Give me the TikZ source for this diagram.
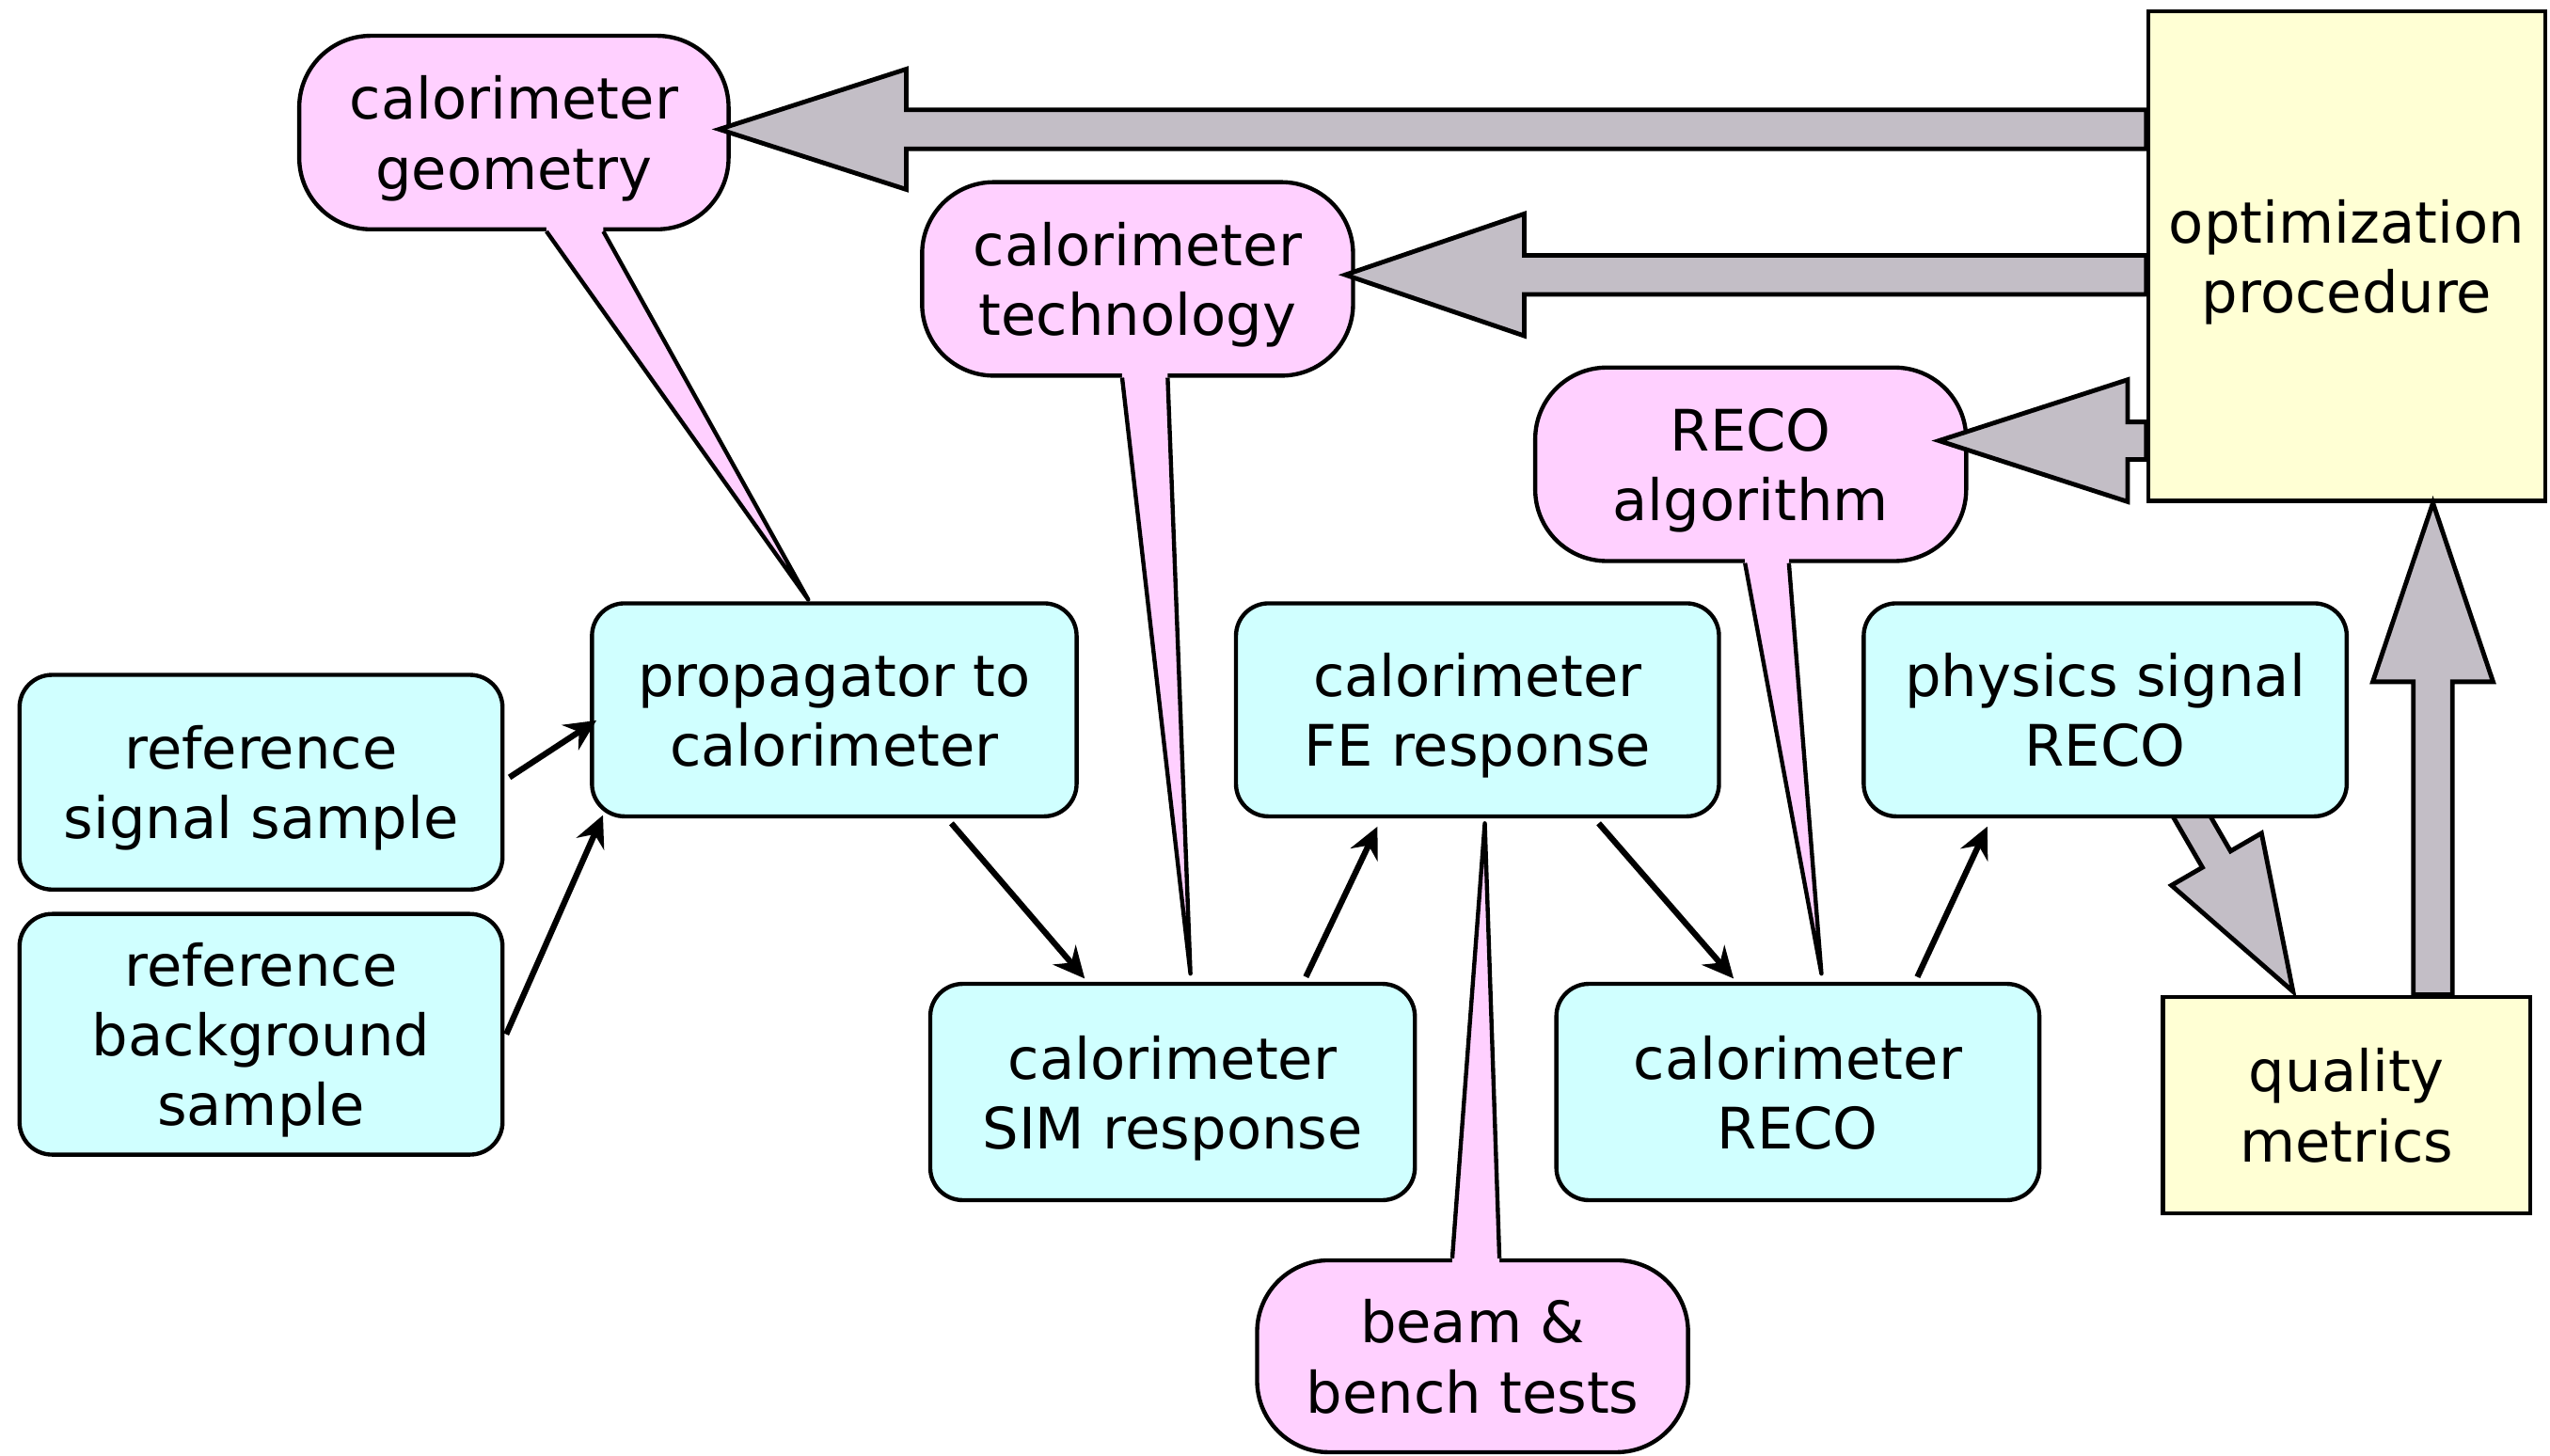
\documentclass[tikz,border=0pt]{standalone}
\usepackage{fontspec}
\setmainfont{DejaVu Sans}
\usetikzlibrary{calc,arrows.meta}
\pgfdeclarelayer{bg}
\pgfsetlayers{bg,main}
\definecolor{cyanfill}{HTML}{D0FFFF}
\definecolor{pinkfill}{HTML}{FFD0FF}
\definecolor{yellowfill}{HTML}{FFFFD4}
\definecolor{grayarrow}{HTML}{C3BEC6}
\newcommand\fl{\rule{0pt}{25.5pt}}
\tikzset{
  lbl/.style={align=center, font=\fontsize{25}{30.5}\selectfont, inner sep=0pt,
    execute at end node={\rule[-6.5pt]{0pt}{0pt}}},
  sz/.style 2 args={minimum width=#1*0.25mm, minimum height=#2*0.25mm},
  procbox/.style={lbl, draw, line width=1.8pt, fill=cyanfill, rounded corners=5mm},
  bubble/.style={lbl, draw, line width=1.8pt, fill=pinkfill, rounded corners=11mm},
  metabox/.style={lbl, draw, line width=1.8pt, fill=yellowfill},
  flow/.style={line width=2.6pt, -{Stealth[length=4.8mm,width=4.6mm,inset=1.6mm]}},
  fat/.style={draw, line width=2pt, fill=grayarrow, line join=miter},
  tailline/.style={line width=1.8pt, line join=round},
}
% fat arrow: #1 start, #2 tip, #3 shaft half width, #4 head half width, #5 head length (px)
\newcommand\fatarrow[5]{%
  \draw[fat] let \p1=(#1), \p2=(#2), \n1={atan2(\y1-\y2,\x1-\x2)}, \n2={veclen(\x1-\x2,\y1-\y2)} in
    [shift={(\p2)}, rotate=\n1]
    (0pt,0pt) -- (#5*0.7113pt, #4*0.7113pt) -- (#5*0.7113pt, #3*0.7113pt)
    -- (\n2, #3*0.7113pt) -- (\n2, -#3*0.7113pt) -- (#5*0.7113pt, -#3*0.7113pt)
    -- (#5*0.7113pt, -#4*0.7113pt) -- cycle;}
% callout tail: #1 base left, #2 base right, #3 tip, #4 inward shift (px, vertical)
\newcommand\calltail[4]{%
  \fill[pinkfill] ($(#1)+(0,#4)$) -- (#1) -- (#3) -- (#2) -- ($(#2)+(0,#4)$) -- cycle;
  \draw[tailline] (#1) -- (#3) -- (#2);}
\begin{document}
\begin{tikzpicture}[x=0.25mm, y=-0.25mm]
\useasboundingbox (0,0) rectangle (1568,895);

% process boxes
\node[procbox, sz={297}{132}] (sig) at (160.5,481) {\fl reference\\signal sample};
\node[procbox, sz={297}{148}] (bkg) at (160.5,636) {\fl reference\\background\\sample};
\node[procbox, sz={298}{131}] (prop) at (513,436.5) {\fl propagator to\\calorimeter};
\node[procbox, sz={298}{133}] (sim) at (721,671.5) {\fl calorimeter\\SIM response};
\node[procbox, sz={297}{131}] (fe) at (908.5,436.5) {\fl calorimeter\\FE response};
\node[procbox, sz={297}{133}] (creco) at (1105.5,671.5) {\fl calorimeter\\RECO};
\node[procbox, sz={297}{131}] (phys) at (1294.5,436.5) {\fl physics signal\\RECO};

% yellow boxes
\node[metabox, sz={244}{301}] (opt) at (1443,157.5) {\fl optimization\\procedure};
\node[metabox, sz={226}{133}] (qual) at (1443,679.5) {\fl quality\\metrics};

% pink callouts
\node[bubble, sz={264}{119}] (geo) at (316,81.5) {\fl calorimeter\\geometry};
\node[bubble, sz={265}{119}] (tech) at (699.5,171.5) {\fl calorimeter\\technology};
\node[bubble, sz={265}{119}] (algo) at (1076.5,285.5) {\fl RECO\\algorithm};
\node[bubble, sz={265}{118}] (beam) at (905.5,834) {\fl beam \&\\bench tests};

\coordinate (geoL) at ($(geo.south)+(20,0)$);
\coordinate (geoR) at ($(geo.south)+(55,0)$);
\coordinate (geoT) at ($(prop.north)+(-16,-1)$);
\calltail{geoL}{geoR}{geoT}{-4}
\coordinate (techL) at ($(tech.south)+(-9.5,0)$);
\coordinate (techR) at ($(tech.south)+(18.5,0)$);
\coordinate (techT) at ($(sim.north)+(11,-5)$);
\calltail{techL}{techR}{techT}{-4}
\coordinate (algoL) at ($(algo.south)+(-3.5,0)$);
\coordinate (algoR) at ($(algo.south)+(23.5,0)$);
\coordinate (algoT) at ($(creco.north)+(14.5,-5)$);
\calltail{algoL}{algoR}{algoT}{-4}
\coordinate (beamL) at ($(beam.north)+(-12.5,0)$);
\coordinate (beamR) at ($(beam.north)+(16.5,0)$);
\coordinate (beamT) at ($(fe.south)+(4.5,3)$);
\calltail{beamL}{beamR}{beamT}{4}

% flow arrows
\draw[flow] ($(sig.east)+(3,-3)$) -- ($(prop.west)+(4,6.5)$);
\draw[flow] ($(bkg.east)+(1,0)$) -- ($(prop.south west)+(8,-2)$);
\draw[flow] ($(prop.south)+(72,3)$) -- ($(sim.north)+(-54,-2)$);
\draw[flow] ($(sim.north)+(82,-3)$) -- ($(fe.south)+(-61.5,5)$);
\draw[flow] ($(fe.south)+(74.5,3)$) -- ($(creco.north)+(-39.5,-2)$);
\draw[flow] ($(creco.north)+(73.5,-3)$) -- ($(phys.south)+(-72.5,5)$);

% fat arrows
\coordinate (t1) at ($(geo.east)+(-7,-2)$);
\fatarrow{opt.west |- t1}{t1}{12}{37}{115}
\coordinate (t2) at ($(tech.east)+(-6,-2.5)$);
\fatarrow{opt.west |- t2}{t2}{12}{37.5}{110}
\coordinate (t3) at ($(algo.east)+(-18,-14.5)$);
\fatarrow{opt.west |- t3}{t3}{11.5}{37.5}{116}
\coordinate (t4) at ($(opt.south)+(53,0)$);
\fatarrow{t4 |- qual.north}{t4}{12}{37}{110}
\coordinate (s5) at ($(phys.south)+(47.5,-11)$);
\coordinate (t5) at ($(qual.north)+(-33,-2)$);
\begin{pgfonlayer}{bg}
\fatarrow{s5}{t5}{10}{32}{94}
\end{pgfonlayer}
\end{tikzpicture}
\end{document}
